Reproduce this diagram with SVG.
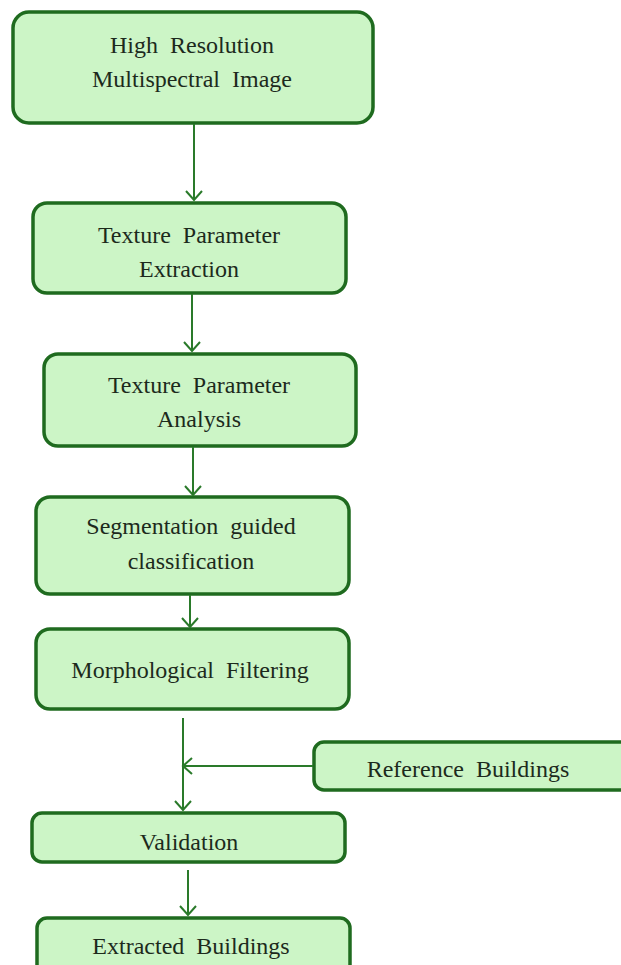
<svg xmlns="http://www.w3.org/2000/svg" width="621" height="965" viewBox="0 0 621 965">
<defs>
<marker id="arr" markerWidth="20" markerHeight="20" refX="10" refY="10" orient="auto" markerUnits="userSpaceOnUse">
<path d="M1,2 L10,10 L1,18" fill="none" stroke="#2a7a2a" stroke-width="2"/>
</marker>
</defs>
<style>
.box{fill:#ccf5c6;stroke:#1f6b1f;stroke-width:3.5}
.t{font-family:"Liberation Serif","Times New Roman",serif;font-size:24px;fill:#1c2a1c;text-anchor:middle;word-spacing:6px}
.c{fill:none;stroke:#2a7a2a;stroke-width:2}
</style>
<rect width="621" height="965" fill="#ffffff"/>
<g id="n1"><rect class="box" x="13" y="12" width="360" height="111" rx="16"/><text class="t" x="192" y="53">High Resolution</text><text class="t" x="192" y="87">Multispectral Image</text></g>
<g id="n2"><rect class="box" x="33" y="203" width="313" height="90" rx="14"/><text class="t" x="189" y="243">Texture Parameter</text><text class="t" x="189" y="277">Extraction</text></g>
<g id="n3"><rect class="box" x="44" y="354" width="312" height="92" rx="14"/><text class="t" x="199" y="393">Texture Parameter</text><text class="t" x="199" y="427">Analysis</text></g>
<g id="n4"><rect class="box" x="36" y="497" width="313" height="97" rx="14"/><text class="t" x="191" y="534">Segmentation guided</text><text class="t" x="191" y="569">classification</text></g>
<g id="n5"><rect class="box" x="36" y="629" width="313" height="80" rx="14"/><text class="t" x="190" y="678">Morphological Filtering</text></g>
<g id="n6"><rect class="box" x="314" y="742" width="320" height="48" rx="10"/><text class="t" x="468" y="777">Reference Buildings</text></g>
<g id="n7"><rect class="box" x="32" y="813" width="313" height="49" rx="10"/><text class="t" x="189" y="850">Validation</text></g>
<g id="n8"><rect class="box" x="37" y="918" width="313" height="60" rx="10"/><text class="t" x="191" y="954">Extracted Buildings</text></g>
<g id="connectors">
<line class="c" x1="194" y1="124" x2="194" y2="200" marker-end="url(#arr)"/>
<line class="c" x1="192" y1="294" x2="192" y2="351" marker-end="url(#arr)"/>
<line class="c" x1="193" y1="447" x2="193" y2="495" marker-end="url(#arr)"/>
<line class="c" x1="190" y1="595" x2="190" y2="627" marker-end="url(#arr)"/>
<line class="c" x1="183" y1="718" x2="183" y2="810" marker-end="url(#arr)"/>
<line class="c" x1="313" y1="766" x2="183" y2="766" marker-end="url(#arr)"/>
<line class="c" x1="188" y1="870" x2="188" y2="915" marker-end="url(#arr)"/>
</g>
</svg>
